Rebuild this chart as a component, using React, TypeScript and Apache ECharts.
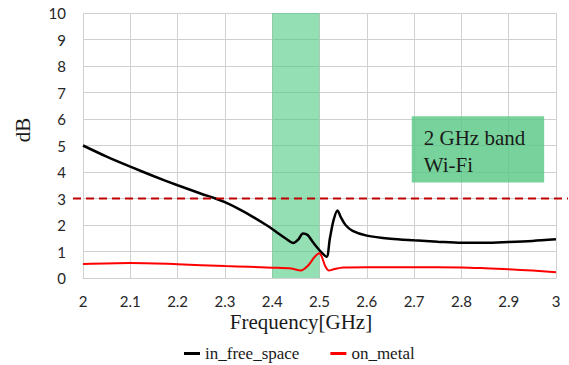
import React, { useEffect, useRef } from "react";
import * as echarts from "echarts";

const freeSpaceX = [2.0, 2.05, 2.1, 2.15, 2.2, 2.25, 2.28, 2.3, 2.33, 2.36, 2.39, 2.41, 2.43, 2.445, 2.455, 2.465, 2.475, 2.485, 2.495, 2.505, 2.515, 2.522, 2.53, 2.538, 2.545, 2.555, 2.57, 2.6, 2.65, 2.7, 2.75, 2.8, 2.85, 2.9, 2.95, 3.0];
const freeSpaceY = [5.0, 4.58, 4.2, 3.84, 3.5, 3.18, 3.0, 2.86, 2.6, 2.3, 1.97, 1.72, 1.47, 1.32, 1.45, 1.68, 1.62, 1.38, 1.15, 0.95, 0.8, 1.5, 2.2, 2.55, 2.3, 2.0, 1.78, 1.6, 1.48, 1.42, 1.37, 1.33, 1.33, 1.36, 1.4, 1.46];
const onMetalX = [2.0, 2.1, 2.2, 2.3, 2.35, 2.4, 2.44, 2.46, 2.475, 2.49, 2.5, 2.505, 2.512, 2.52, 2.53, 2.55, 2.6, 2.7, 2.8, 2.85, 2.9, 2.95, 3.0];
const onMetalY = [0.53, 0.57, 0.52, 0.45, 0.42, 0.39, 0.36, 0.28, 0.45, 0.8, 0.93, 0.8, 0.45, 0.28, 0.33, 0.4, 0.41, 0.41, 0.4, 0.37, 0.33, 0.28, 0.22];
const threshold = 3;
const bandRange = [2.4, 2.5];
const yTicks = [0, 10, 1];
const xTicks = [2, 3, 0.1];
const boxRange = [[2.695, 6.1], [2.975, 3.6]];
const boxLines = ["2 GHz band", "Wi-Fi"];
const xName = "Frequency[GHz]";

export default function App() {
  const ref = useRef<HTMLDivElement>(null);
  useEffect(() => {
    const chart = echarts.init(ref.current!, null, { renderer: "svg" });
    const serif = "'Liberation Serif', serif";
    const option: any = {
      animation: false,
      backgroundColor: "#ffffff",
      grid: { left: 83, right: 13, top: 13, bottom: 87 },
      xAxis: {
        type: "value",
        min: xTicks[0],
        max: xTicks[1],
        interval: xTicks[2],
        axisLine: { show: true, lineStyle: { color: "#d0d0d0" } },
        axisTick: { show: false },
        splitLine: { show: true, lineStyle: { color: "#d0d0d0", width: 1 } },
        axisLabel: {
          fontFamily: "Lato",
          fontSize: 15,
          color: "#262626",
          margin: 15,
          formatter: (v: number) => String(Math.round(v * 10) / 10),
        },
      },
      yAxis: {
        type: "value",
        min: yTicks[0],
        max: yTicks[1],
        interval: yTicks[2],
        axisLine: { show: false },
        axisTick: { show: false },
        splitLine: { show: true, lineStyle: { color: "#d0d0d0", width: 1 } },
        axisLabel: { fontFamily: "Lato", fontSize: 15, color: "#262626", margin: 17 },
      },
      legend: {
        top: 340,
        left: 179,
        itemGap: 31,
        itemWidth: 16,
        itemHeight: 3,
        icon: "rect",
        textStyle: { fontFamily: serif, fontSize: 17, color: "#1a1a1a" },
        data: ["in_free_space", "on_metal"],
      },
      series: [
        {
          name: "in_free_space",
          type: "line",
          smooth: 0.3,
          showSymbol: false,
          color: "#000000",
          lineStyle: { width: 2.5, color: "#000000" },
          data: freeSpaceX.map((x, i) => [x, freeSpaceY[i]]),
          z: 3,
        },
        {
          name: "on_metal",
          type: "line",
          smooth: 0.3,
          showSymbol: false,
          color: "#ff0000",
          lineStyle: { width: 2, color: "#ff0000" },
          data: onMetalX.map((x, i) => [x, onMetalY[i]]),
          z: 3,
        },
        {
          name: "areas",
          type: "line",
          data: [],
          z: 10,
          markArea: {
            silent: true,
            label: { show: false },
            data: [
              [
                { xAxis: bandRange[0], yAxis: yTicks[1], itemStyle: { color: "rgba(70,200,125,0.58)" } },
                { xAxis: bandRange[1], yAxis: yTicks[0] },
              ],
              [
                { xAxis: boxRange[0][0], yAxis: boxRange[0][1], itemStyle: { color: "rgba(85,200,130,0.8)" } },
                { xAxis: boxRange[1][0], yAxis: boxRange[1][1] },
              ],
            ],
          },
        },
      ],
    };
    chart.setOption(option);
    const yPix = chart.convertToPixel({ yAxisIndex: 0 }, threshold) as number;
    const boxTL = chart.convertToPixel({ gridIndex: 0 }, boxRange[0]) as number[];
    chart.setOption({
      graphic: [
        {
          type: "line",
          shape: { x1: 73, y1: yPix, x2: 568, y2: yPix },
          style: { stroke: "#c00000", lineWidth: 2, lineDash: [8, 5] },
          z: 20,
        },
        {
          type: "text",
          x: 23,
          y: 130,
          rotation: Math.PI / 2,
          style: { text: "dB", font: `21px ${serif}`, fill: "#1a1a1a", textAlign: "center", textVerticalAlign: "middle" },
        },
        {
          type: "text",
          x: 301,
          y: 322,
          style: { text: xName, font: `21px ${serif}`, fill: "#1a1a1a", textAlign: "center", textVerticalAlign: "middle" },
        },
        {
          type: "text",
          x: boxTL[0] + 12,
          y: boxTL[1] + 8,
          z: 20,
          style: { text: boxLines.join("\n"), font: `21px ${serif}`, lineHeight: 27, fill: "#1a1a1a" },
        },
      ],
    });
    return () => chart.dispose();
  }, []);
  return <div ref={ref} style={{ position: "absolute", left: 0, top: 0, width: 569, height: 365 }} />;
}
